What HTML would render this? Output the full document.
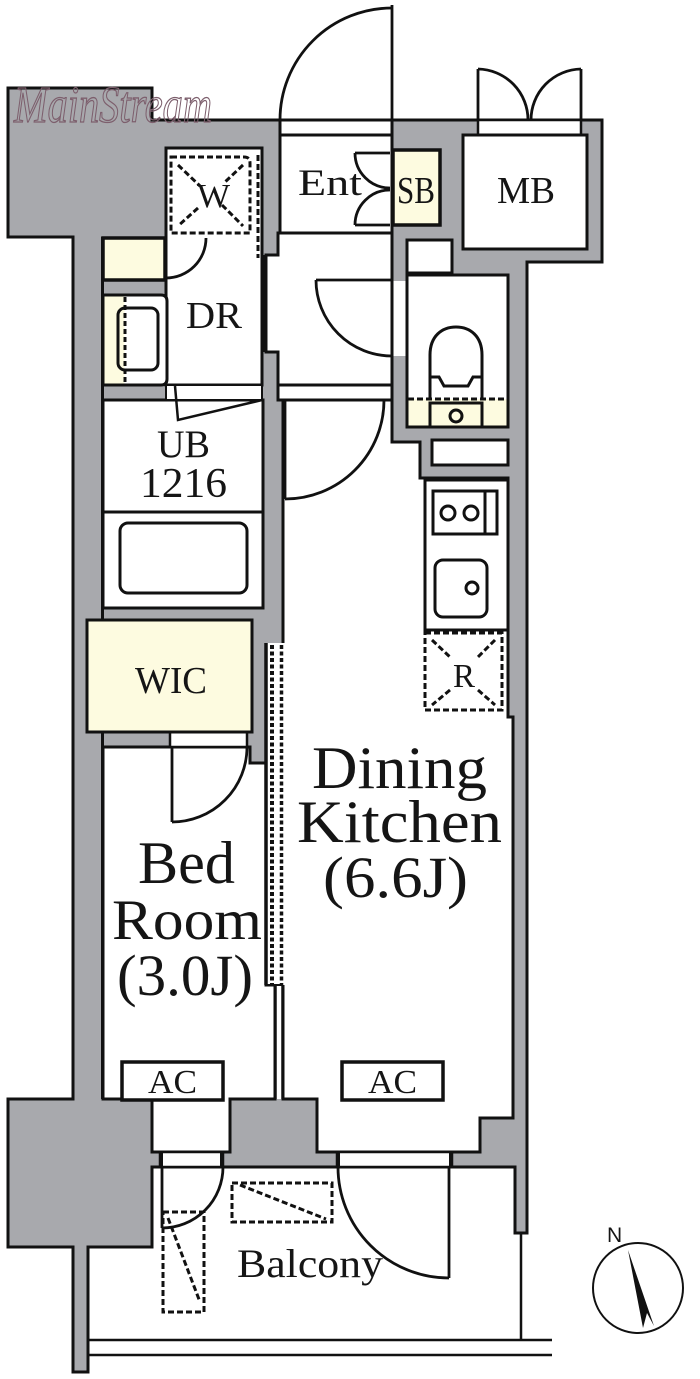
<!DOCTYPE html>
<html><head><meta charset="utf-8"><style>
html,body{margin:0;padding:0;background:#fff;}
svg{display:block;}
text{font-family:"Liberation Serif",serif;fill:#151515;}
</style></head><body>
<svg width="700" height="1379" viewBox="0 0 700 1379" xmlns="http://www.w3.org/2000/svg">
<!-- base walls -->
<polygon fill="#a8a9ad" stroke="#111" stroke-width="3" points="8,88 152,88 152,120 602,120 602,262 527,262 527,1233 515,1233 515,1167 152,1167 152,1247 88,1247 88,1372 73,1372 73,1247 8,1247 8,1099 73,1099 73,237 8,237"/>
<g stroke="#111" stroke-width="3" fill="#fff">
<!-- entrance -->
<rect x="280" y="120" width="112" height="15"/>
<rect x="280" y="135" width="112" height="98"/>
<polygon points="278,233 392,233 392,385 278,385 278,352 266,352 266,255 278,255"/>
<rect x="278" y="385" width="114" height="15"/>
<!-- SB -->
<rect x="393" y="150" width="47" height="75" fill="#fdfbe0" stroke-width="3.5"/>
<!-- MB -->
<rect x="478" y="120" width="103" height="15" stroke-width="2.5"/>
<rect x="463" y="135" width="124" height="114"/>
<!-- toilet area -->
<rect x="407" y="240" width="45" height="33"/>
<rect x="407" y="275" width="101" height="152"/>
<rect x="432" y="440" width="76" height="25"/>
<!-- DR -->
<rect x="166" y="148" width="96" height="237"/>
<rect x="103" y="238" width="62" height="42" fill="#fdfbe0" stroke-width="3.5"/>
<path d="M103,295 L161,295 Q167,295 167,301 L167,379 Q167,385 161,385 L103,385 Z"/>
<!-- UB -->
<rect x="103" y="400" width="160" height="208"/>
<rect x="166" y="385" width="96" height="15" stroke-width="2"/>
<!-- WIC -->
<rect x="87" y="620" width="165" height="112" fill="#fdfbe0"/>
<!-- DK -->
<polygon points="283,400 392,400 392,442 420,442 420,478 508,478 508,717 513,717 513,1118 480,1118 480,1152 317,1152 317,1099 283,1099"/>
<!-- Bedroom -->
<polygon points="103,747 250,747 250,763 266,763 266,985 275,985 275,1099 230,1099 230,1152 152,1152 152,1099 103,1099"/>
<rect x="170" y="732" width="77" height="15" stroke-width="2.5"/>
<!-- kitchen counter -->
<rect x="425" y="480" width="83" height="150"/>
</g>
<!-- inner left wall line -->
<line x1="102.5" y1="237" x2="102.5" y2="1099" stroke="#111" stroke-width="3"/>
<rect x="88.5" y="621.5" width="162" height="109" fill="#fdfbe0"/>
<rect x="87" y="620" width="165" height="112" fill="none" stroke="#111" stroke-width="3"/>
<!-- toilet opening -->
<rect x="393.5" y="281" width="12" height="75" fill="#fff"/>
<!-- basin cream strip -->
<rect x="104.5" y="296.5" width="20" height="87" fill="#fdfbe0"/>
<line x1="125" y1="297" x2="125" y2="384" stroke="#111" stroke-width="3" stroke-dasharray="5 3"/>
<rect x="118" y="308" width="40" height="62" rx="7" fill="none" stroke="#111" stroke-width="3"/>
<!-- W closet -->
<g stroke="#111" stroke-width="3" fill="none" stroke-dasharray="6 3">
<path d="M171,157 L244,157 Q250,157 250,163 L250,233 L171,233 Z"/>
<line x1="258" y1="155" x2="258" y2="258"/>
<line x1="178" y1="165" x2="200" y2="186"/>
<line x1="222" y1="205" x2="243" y2="226"/>
<line x1="243" y1="165" x2="225" y2="182"/>
<line x1="198" y1="208" x2="178" y2="226"/>
</g>
<!-- hallway / DR partition -->
<line x1="263.5" y1="255" x2="263.5" y2="352" stroke="#111" stroke-width="2"/>
<!-- UB details -->
<line x1="103" y1="512" x2="263" y2="512" stroke="#111" stroke-width="3"/>
<rect x="120" y="523" width="127" height="70" rx="8" fill="none" stroke="#111" stroke-width="3"/>
<polyline points="175,386 178,420 262,400" fill="none" stroke="#111" stroke-width="2.5"/>
<!-- toilet -->
<rect x="408.5" y="399" width="98" height="26.5" fill="#fdfbe0"/>
<line x1="408" y1="399" x2="507" y2="399" stroke="#111" stroke-width="3" stroke-dasharray="6 3"/>
<g stroke="#111" stroke-width="3" fill="none">
<path d="M430,399 L430,355 C430,336 442,327 456,327 C470,327 482,336 482,355 L482,399"/>
<path d="M430,377 L439,377 L444,386 L468,386 L473,377 L482,377"/>
<rect x="430" y="403" width="52" height="24" fill="#fdfbe0"/>
<circle cx="456" cy="416" r="6"/>
</g>
<!-- kitchen -->
<g stroke="#111" stroke-width="3" fill="none">
<rect x="433" y="491" width="64" height="43"/>
<line x1="485" y1="491" x2="485" y2="534"/>
<circle cx="448" cy="513" r="7"/>
<circle cx="471" cy="513" r="7"/>
<rect x="435" y="560" width="52" height="57" rx="8"/>
<circle cx="472" cy="588" r="6"/>
</g>
<g stroke="#111" stroke-width="3" fill="none" stroke-dasharray="6 3">
<rect x="425" y="633" width="77" height="77"/>
<line x1="432" y1="640" x2="450" y2="657"/>
<line x1="478" y1="690" x2="495" y2="705"/>
<line x1="495" y1="640" x2="478" y2="657"/>
<line x1="450" y1="690" x2="432" y2="705"/>
</g>
<!-- dotted strip between bedroom and DK -->
<rect x="267" y="643" width="18" height="342" fill="#fff"/>
<line x1="266" y1="643" x2="266" y2="985" stroke="#111" stroke-width="3.5"/>
<line x1="272" y1="645" x2="272" y2="985" stroke="#111" stroke-width="4" stroke-dasharray="4 2.5"/>
<line x1="281.5" y1="645" x2="281.5" y2="985" stroke="#111" stroke-width="3.5" stroke-dasharray="4 2.5"/>
<rect x="276" y="985" width="6" height="114" fill="#fff"/>
<line x1="275.5" y1="985" x2="275.5" y2="1099" stroke="#111" stroke-width="2.5"/>
<line x1="282.5" y1="985" x2="282.5" y2="1099" stroke="#111" stroke-width="2.5"/>
<line x1="266" y1="985" x2="283" y2="985" stroke="#111" stroke-width="2"/>
<!-- AC boxes -->
<rect x="122" y="1062" width="101" height="38" fill="#fff" stroke="#111" stroke-width="3.5"/>
<rect x="342" y="1062" width="101" height="38" fill="#fff" stroke="#111" stroke-width="3.5"/>
<!-- bottom thresholds -->
<rect x="160" y="1152" width="63" height="15" fill="#fff" stroke="#111" stroke-width="2.5"/>
<rect x="159" y="1152" width="4" height="15" fill="#111"/>
<rect x="220" y="1152" width="4" height="15" fill="#111"/>
<rect x="337" y="1152" width="115" height="15" fill="#fff" stroke="#111" stroke-width="2.5"/>
<rect x="336" y="1152" width="4" height="15" fill="#111"/>
<rect x="449" y="1152" width="4" height="15" fill="#111"/>
<!-- doors -->
<g stroke="#111" stroke-width="2.8" fill="none">
<line x1="392" y1="120" x2="392" y2="5"/>
<path d="M392,8 A112,112 0 0,0 280,120"/>
<line x1="390" y1="153" x2="355" y2="153"/>
<path d="M355,153 A35,35 0 0,0 390,188"/>
<line x1="390" y1="225" x2="355" y2="225"/>
<path d="M355,225 A35,35 0 0,1 390,190"/>
<line x1="478" y1="120" x2="478" y2="69"/>
<path d="M478,69 A51,51 0 0,1 528,120"/>
<line x1="581" y1="120" x2="581" y2="69"/>
<path d="M581,69 A51,51 0 0,0 531,120"/>
<line x1="392" y1="280" x2="316" y2="280"/>
<path d="M316,280 A76,76 0 0,0 392,356"/>
<line x1="285" y1="400" x2="285" y2="499"/>
<path d="M285,499 A99,99 0 0,0 384,400"/>
<line x1="166" y1="238" x2="166" y2="278"/>
<path d="M166,278 A40,40 0 0,0 206,238"/>
<line x1="172" y1="747" x2="172" y2="822"/>
<path d="M172,822 A75,75 0 0,0 247,747"/>
<line x1="162" y1="1167" x2="162" y2="1228"/>
<path d="M162,1228 A61,61 0 0,0 223,1167"/>
<line x1="449" y1="1167" x2="449" y2="1278"/>
<path d="M449,1278 A111,111 0 0,1 338,1167"/>
</g>
<!-- balcony -->
<g stroke="#111" stroke-width="2.5" fill="none">
<line x1="88" y1="1340" x2="552" y2="1340"/>
<line x1="88" y1="1355" x2="552" y2="1355"/>
<line x1="521" y1="1233" x2="521" y2="1340"/>
</g>
<g stroke="#111" stroke-width="3" fill="none" stroke-dasharray="6 3">
<rect x="163" y="1212" width="41" height="100"/>
<line x1="168" y1="1218" x2="200" y2="1302"/>
<rect x="232" y="1183" width="100" height="39"/>
<line x1="240" y1="1185" x2="326" y2="1219"/>
</g>
<!-- compass -->
<circle cx="638" cy="1288" r="45" fill="none" stroke="#111" stroke-width="2"/>
<polygon points="628,1250 643,1328 647,1313 654,1326" fill="#111"/>
<text x="607" y="1242" font-size="21" style="font-family:'Liberation Sans',sans-serif">N</text>
<!-- labels -->
<text x="197" y="207" font-size="34" textLength="33" lengthAdjust="spacingAndGlyphs">W</text>
<text x="298" y="195" font-size="37" textLength="64" lengthAdjust="spacingAndGlyphs">Ent</text>
<text x="397" y="203" font-size="38" textLength="38" lengthAdjust="spacingAndGlyphs">SB</text>
<text x="497" y="203" font-size="38" textLength="58" lengthAdjust="spacingAndGlyphs">MB</text>
<text x="186" y="328" font-size="38" textLength="56" lengthAdjust="spacingAndGlyphs">DR</text>
<text x="157" y="457" font-size="39" textLength="53" lengthAdjust="spacingAndGlyphs">UB</text>
<text x="140" y="497" font-size="42" textLength="87" lengthAdjust="spacingAndGlyphs">1216</text>
<text x="135" y="693" font-size="38" textLength="72" lengthAdjust="spacingAndGlyphs">WIC</text>
<text x="453" y="687" font-size="34" textLength="22" lengthAdjust="spacingAndGlyphs">R</text>
<text x="148" y="1093" font-size="34" textLength="49" lengthAdjust="spacingAndGlyphs">AC</text>
<text x="368" y="1093" font-size="34" textLength="49" lengthAdjust="spacingAndGlyphs">AC</text>
<text x="237" y="1277" font-size="40" textLength="146" lengthAdjust="spacingAndGlyphs">Balcony</text>
<text x="312" y="788" font-size="60" textLength="175" lengthAdjust="spacingAndGlyphs">Dining</text>
<text x="297" y="842" font-size="60" textLength="205" lengthAdjust="spacingAndGlyphs">Kitchen</text>
<text x="323" y="897" font-size="58" textLength="145" lengthAdjust="spacingAndGlyphs">(6.6J)</text>
<text x="138" y="883" font-size="60" textLength="97" lengthAdjust="spacingAndGlyphs">Bed</text>
<text x="112" y="939" font-size="57" textLength="150" lengthAdjust="spacingAndGlyphs">Room</text>
<text x="117" y="995" font-size="58" textLength="136" lengthAdjust="spacingAndGlyphs">(3.0J)</text>
<!-- watermark -->
<text x="14" y="122" font-size="52" font-style="italic" textLength="198" lengthAdjust="spacingAndGlyphs" style="fill:none;stroke:#7d5f6d;stroke-width:1.3">MainStream</text>
</svg>
</body></html>
